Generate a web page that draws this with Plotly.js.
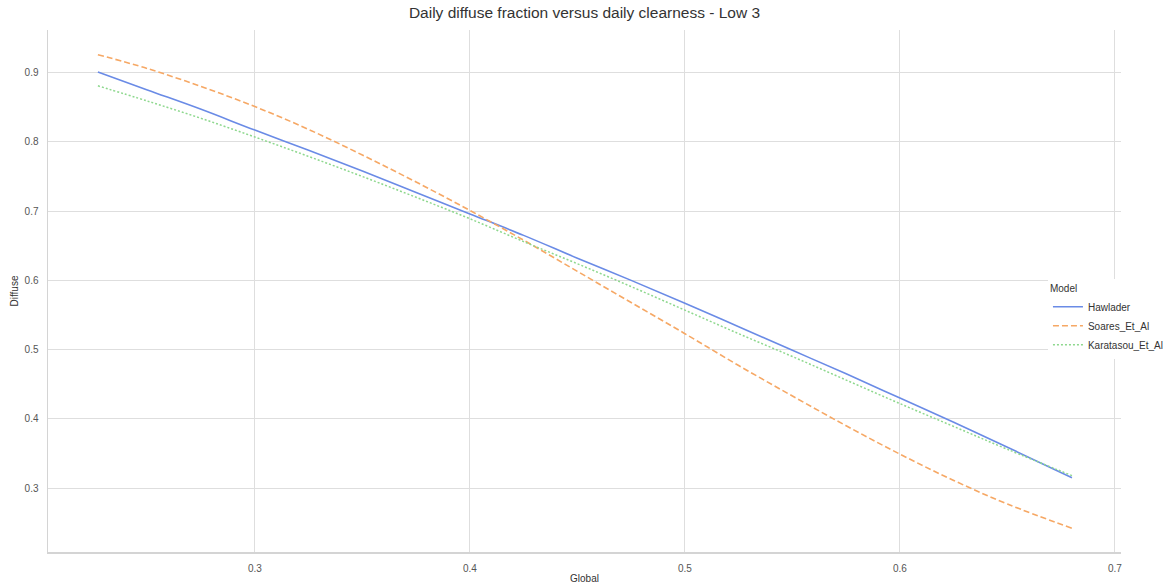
<!DOCTYPE html>
<html>
<head>
<meta charset="utf-8">
<script src="https://cdn.plot.ly/plotly-3.0.1.min.js"></script>
<style>
  html, body { margin: 0; padding: 0; background: #ffffff; }
  #chart { width: 1164px; height: 586px; }
</style>
</head>
<body>
<div id="chart"></div>
<script>
// Daily clearness index (x) and diffuse fraction per model
const globalClearness = [0.227, 0.25, 0.275, 0.3, 0.325, 0.35, 0.375, 0.4, 0.425, 0.45,
                         0.475, 0.5, 0.525, 0.55, 0.575, 0.6, 0.625, 0.65, 0.68];
const hawlader  = [0.901, 0.875, 0.847, 0.817, 0.788, 0.758, 0.727, 0.696, 0.665, 0.632,
                   0.600, 0.567, 0.533, 0.499, 0.465, 0.430, 0.395, 0.359, 0.315];
const soaresEtAl = [0.926, 0.906, 0.880, 0.851, 0.818, 0.781, 0.742, 0.701, 0.658, 0.613,
                    0.568, 0.523, 0.477, 0.433, 0.390, 0.349, 0.311, 0.277, 0.242];
const karatasouEtAl = [0.881, 0.859, 0.834, 0.807, 0.779, 0.750, 0.720, 0.689, 0.656, 0.624,
                       0.591, 0.557, 0.523, 0.490, 0.456, 0.422, 0.389, 0.356, 0.318];
const modelNames = ["Hawlader", "Soares_Et_Al", "Karatasou_Et_Al"];
const yTicks = [0.3, 0.4, 0.5, 0.6, 0.7, 0.8, 0.9];
const xTicks = [0.3, 0.4, 0.5, 0.6, 0.7];

const font = "Liberation Sans, Arial, sans-serif";

const traces = [
  { x: globalClearness, y: hawlader, name: modelNames[0], mode: "lines",
    line: { color: "#6a8be6", width: 1.6, dash: "solid", shape: "spline" } },
  { x: globalClearness, y: soaresEtAl, name: modelNames[1], mode: "lines",
    line: { color: "#f6a865", width: 1.6, dash: "6px,3px", shape: "spline" } },
  { x: globalClearness, y: karatasouEtAl, name: modelNames[2], mode: "lines",
    line: { color: "#8ed88e", width: 1.5, dash: "2px,2px", shape: "spline" } }
];

const axisCommon = {
  showgrid: true, gridcolor: "#dedede", gridwidth: 1,
  showline: true, linecolor: "#d4d4d4", linewidth: 1.5,
  zeroline: false, ticks: "outside", ticklen: 6, tickcolor: "rgba(0,0,0,0)",
  tickfont: { family: font, size: 10, color: "#555555" }
};

const layout = {
  width: 1164, height: 586,
  paper_bgcolor: "#ffffff", plot_bgcolor: "#ffffff",
  margin: { l: 48, r: 43, t: 30, b: 34, autoexpand: false },
  title: { text: "Daily diffuse fraction versus daily clearness - Low 3",
           font: { family: font, size: 15.5, color: "#333333" },
           x: 0.5, xref: "paper", y: 0.978, yanchor: "middle" },
  xaxis: Object.assign({}, axisCommon, {
    range: [0.2038, 0.7028], tickvals: xTicks, ticktext: xTicks.map(v => v.toFixed(1)),
    title: { text: "Global", font: { family: font, size: 10, color: "#333333" }, standoff: 2 }
  }),
  yaxis: Object.assign({}, axisCommon, {
    range: [0.2077, 0.9616], tickvals: yTicks, ticktext: yTicks.map(v => v.toFixed(1)),
    title: { text: "Diffuse", font: { family: font, size: 10, color: "#333333" }, standoff: 4 }
  }),
  showlegend: true,
  legend: {
    xref: "container", x: 0.9003, xanchor: "left",
    yref: "paper", y: 0.446, yanchor: "middle",
    bgcolor: "rgba(255,255,255,1)", borderwidth: 0,
    font: { family: font, size: 10, color: "#333333" },
    title: { text: "Model", font: { family: font, size: 10, color: "#333333" } },
    tracegroupgap: 0, itemwidth: 30
  }
};

Plotly.newPlot("chart", traces, layout, { displayModeBar: false, staticPlot: true });
</script>
</body>
</html>
